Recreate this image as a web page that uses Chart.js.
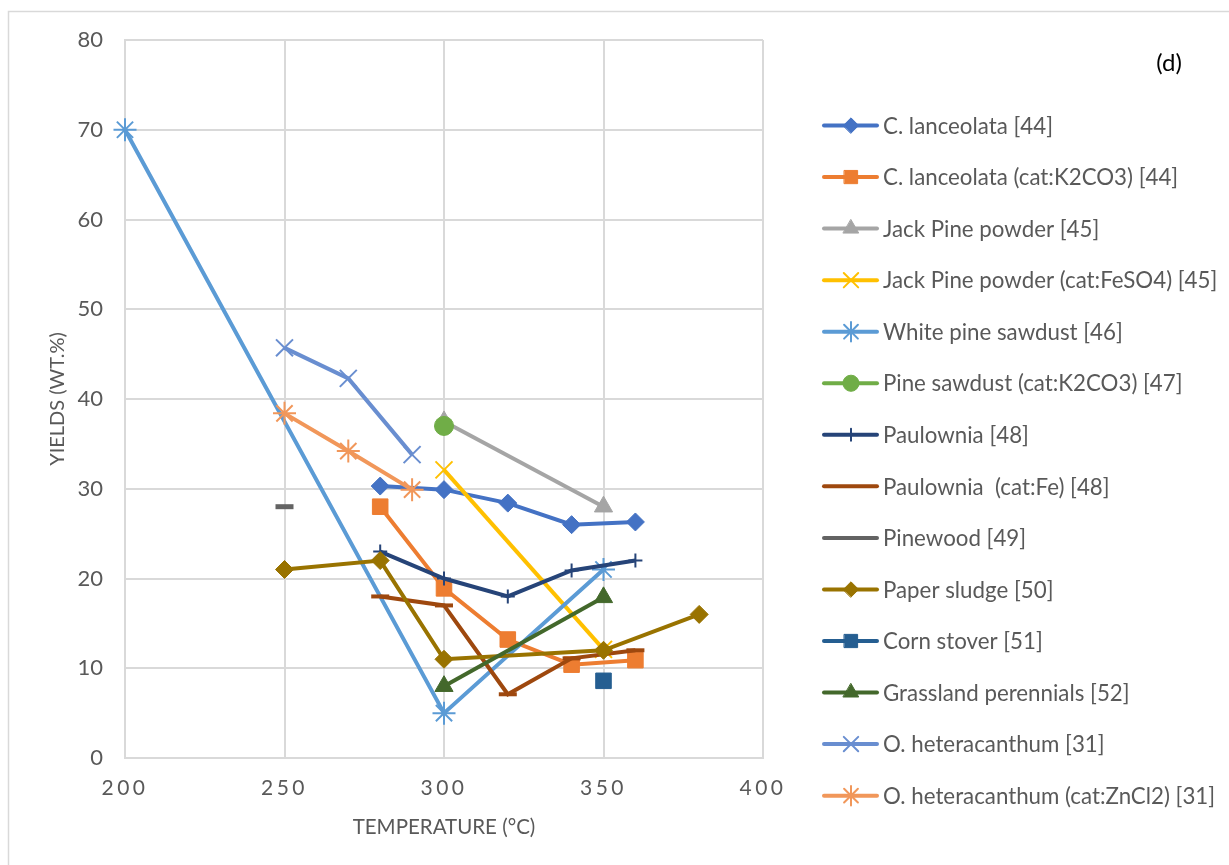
<!DOCTYPE html>
<html>
<head>
<meta charset="utf-8">
<script src="https://cdn.jsdelivr.net/npm/chart.js@4.4.1/dist/chart.umd.min.js"></script>
<style>
  html, body { margin: 0; padding: 0; background: #fff; }
</style>
</head>
<body>
<canvas id="chart" width="1229" height="865"></canvas>
<script>
// Series labels (legend order)
const seriesNames = [
  'C. lanceolata [44]',
  'C. lanceolata (cat:K2CO3) [44]',
  'Jack Pine powder [45]',
  'Jack Pine powder (cat:FeSO4) [45]',
  'White pine sawdust [46]',
  'Pine sawdust (cat:K2CO3) [47]',
  'Paulownia [48]',
  'Paulownia  (cat:Fe) [48]',
  'Pinewood [49]',
  'Paper sludge [50]',
  'Corn stover [51]',
  'Grassland perennials [52]',
  'O. heteracanthum [31]',
  'O. heteracanthum (cat:ZnCl2) [31]'
];

// Temperatures (°C) and yields (wt.%) per series
const cLanceolataT = [280, 300, 320, 340, 360];
const cLanceolataY = [30.3, 29.9, 28.4, 26.0, 26.3];
const cLanceolataK2CO3T = [280, 300, 320, 340, 360];
const cLanceolataK2CO3Y = [28.0, 18.9, 13.2, 10.4, 10.9];
const jackPineT = [300, 350];
const jackPineY = [37.5, 28.0];
const jackPineFeSO4T = [300, 350];
const jackPineFeSO4Y = [32.1, 12.1];
const whitePineT = [200, 300, 350];
const whitePineY = [70.0, 5.0, 21.0];
const pineSawdustT = [300];
const pineSawdustY = [37.0];
const paulowniaT = [280, 300, 320, 340, 360];
const paulowniaY = [23.0, 20.0, 18.0, 20.9, 22.0];
const paulowniaFeT = [280, 300, 320, 340, 360];
const paulowniaFeY = [18.0, 17.0, 7.1, 11.1, 12.0];
const pinewoodT = [250];
const pinewoodY = [28.0];
const paperSludgeT = [250, 280, 300, 350, 380];
const paperSludgeY = [21.0, 22.0, 11.0, 12.0, 16.0];
const cornStoverT = [350];
const cornStoverY = [8.6];
const grasslandT = [300, 350];
const grasslandY = [8.0, 17.9];
const oHeteraT = [250, 270, 290];
const oHeteraY = [45.7, 42.3, 33.8];
const oHeteraZnCl2T = [250, 270, 290];
const oHeteraZnCl2Y = [38.4, 34.2, 29.9];

const allT = [cLanceolataT, cLanceolataK2CO3T, jackPineT, jackPineFeSO4T, whitePineT, pineSawdustT,
  paulowniaT, paulowniaFeT, pinewoodT, paperSludgeT, cornStoverT, grasslandT, oHeteraT, oHeteraZnCl2T];
const allY = [cLanceolataY, cLanceolataK2CO3Y, jackPineY, jackPineFeSO4Y, whitePineY, pineSawdustY,
  paulowniaY, paulowniaFeY, pinewoodY, paperSludgeY, cornStoverY, grasslandY, oHeteraY, oHeteraZnCl2Y];

// Styles: colour, marker, marker radius, marker stroke
const colors = ['#4472C4', '#ED7D31', '#A5A5A5', '#FFC000', '#5B9BD5', '#70AD47',
  '#264478', '#9E480E', '#636363', '#997300', '#255E91', '#43682B', '#698ED0', '#F1975A'];
const markers = ['rectRot', 'rect', 'triangle', 'crossRot', 'star', 'circle',
  'cross', 'line', 'line', 'rectRot', 'rect', 'triangle', 'crossRot', 'star'];
const radii = [9, 11, 10.5, 12, 11.5, 9.5, 7, 9, 9, 9, 11, 10.5, 12, 11.5];
const markerWidths = [1, 1, 1, 2, 2, 1, 2, 4, 5, 1, 1, 1, 2, 2];

const textColor = '#595959';
const gridColor = '#D9D9D9';
const fontFamily = 'Lato, "Open Sans", sans-serif';

const datasets = seriesNames.map((name, i) => ({
  label: name,
  data: allT[i].map((t, j) => ({ x: t, y: allY[i][j] })),
  showLine: true,
  borderColor: colors[i],
  backgroundColor: colors[i],
  borderWidth: 4,
  pointStyle: markers[i],
  pointRadius: radii[i],
  pointHoverRadius: radii[i],
  pointBackgroundColor: colors[i],
  pointBorderColor: colors[i],
  pointBorderWidth: markerWidths[i],
  order: seriesNames.length - i,
  clip: false
}));

// legend, frame and panel tag, drawn after the chart
const extras = {
  id: 'extras',
  beforeDraw(chart) {
    const sx = chart.scales.x;
    if (!sx._spaced) {
      const orig = sx.drawLabels;
      sx.drawLabels = function (area) {
        const c = this.ctx;
        c.save();
        c.letterSpacing = '3.5px';
        orig.call(this, area);
        c.restore();
      };
      sx._spaced = true;
    }
  },
  afterDraw(chart) {
    const ctx = chart.ctx;
    ctx.save();
    // outer frame
    ctx.strokeStyle = gridColor;
    ctx.lineWidth = 1.5;
    ctx.strokeRect(8.5, 11.5, 1300, 1000);

    // panel tag
    ctx.fillStyle = '#000';
    ctx.font = '24px ' + fontFamily;
    ctx.textAlign = 'center';
    ctx.textBaseline = 'middle';
    ctx.fillText('(d)', 1169, 63);

    // legend
    ctx.textAlign = 'left';
    ctx.font = '22.3px ' + fontFamily;
    chart.data.datasets.forEach((ds, i) => {
      const y = 125.5 + i * 51.55;
      ctx.strokeStyle = ds.borderColor;
      ctx.lineWidth = 4;
      ctx.lineCap = 'round';
      ctx.beginPath();
      ctx.moveTo(824, y);
      ctx.lineTo(877, y);
      ctx.stroke();
      ctx.fillStyle = ds.pointBackgroundColor;
      ctx.strokeStyle = ds.pointBorderColor;
      ctx.lineWidth = ds.pointBorderWidth;
      if (ds.pointStyle !== 'line') {
        Chart.helpers.drawPoint(ctx, {
          pointStyle: ds.pointStyle,
          radius: ds.pointRadius * 0.85,
          borderWidth: ds.pointBorderWidth,
          rotation: 0
        }, 851, y);
      }
      ctx.fillStyle = textColor;
      ctx.fillText(ds.label, 883, y + 1);
    });
    ctx.restore();
  }
};

new Chart(document.getElementById('chart'), {
  type: 'scatter',
  data: { datasets },
  options: {
    responsive: false,
    animation: false,
    devicePixelRatio: 1,
    layout: { padding: { top: 40, right: 466, bottom: 0, left: 0 } },
    plugins: {
      legend: { display: false },
      tooltip: { enabled: false }
    },
    scales: {
      x: {
        type: 'linear',
        min: 200,
        max: 400,
        afterFit: s => { s.height = 107; },
        ticks: {
          stepSize: 50,
          color: textColor,
          font: { family: fontFamily, size: 21 },
          padding: 18
        },
        grid: { color: gridColor, lineWidth: 2, drawTicks: false },
        border: { color: gridColor, width: 2 },
        title: {
          display: true,
          text: 'TEMPERATURE (°C)',
          color: textColor,
          font: { family: fontFamily, size: 20.5 },
          padding: { top: 0, bottom: 25 }
        }
      },
      y: {
        min: 0,
        max: 80,
        afterFit: s => { s.width = 125; },
        ticks: {
          stepSize: 10,
          color: textColor,
          font: { family: fontFamily, size: 22 },
          padding: 22
        },
        grid: { color: gridColor, lineWidth: 2, drawTicks: false },
        border: { color: gridColor, width: 2 },
        title: {
          display: true,
          text: 'YIELDS (WT.%)',
          color: textColor,
          font: { family: fontFamily, size: 20 },
          padding: { top: 46, bottom: 0 }
        }
      }
    }
  },
  plugins: [extras]
});
</script>
</body>
</html>
